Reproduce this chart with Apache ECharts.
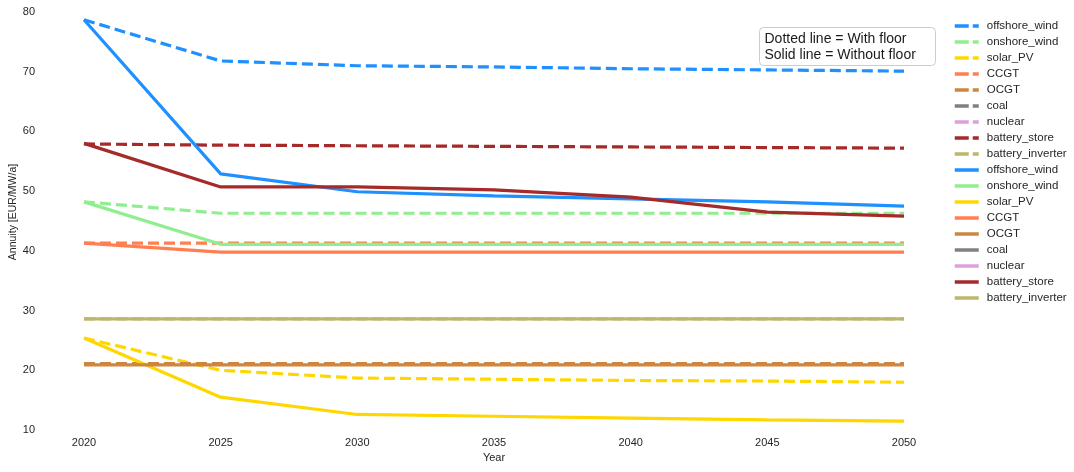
<!DOCTYPE html>
<html>
<head>
<meta charset="utf-8">
<script src="https://cdn.jsdelivr.net/npm/echarts@6/dist/echarts.min.js"></script>
<style>
html,body{margin:0;padding:0;background:#fff;}
#chart{width:1074px;height:472px;}
</style>
</head>
<body>
<div id="chart"></div>
<script>
const years = [2020, 2025, 2030, 2035, 2040, 2045, 2050];
const techs = ['offshore_wind','onshore_wind','solar_PV','CCGT','OCGT','coal','nuclear','battery_store','battery_inverter'];
const colors = ['#1E90FF','#90EE90','#FFD700','#FF7F50','#CD853F','#808080','#DDA0DD','#A52A2A','#BDB76B'];

// With floor (dashed)
const offshore_wind_floor = [78.7, 71.8, 71.0, 70.8, 70.5, 70.3, 70.1];
const onshore_wind_floor = [48.2, 46.3, 46.3, 46.3, 46.3, 46.3, 46.3];
const solar_PV_floor = [25.4, 20.0, 18.7, 18.5, 18.3, 18.2, 18.0];
const CCGT_floor = [41.3, 41.3, 41.3, 41.3, 41.3, 41.3, 41.3];
const OCGT_floor = [21.1, 21.1, 21.1, 21.1, 21.1, 21.1, 21.1];
const coal_floor = [];
const nuclear_floor = [];
const battery_store_floor = [57.9, 57.7, 57.6, 57.5, 57.4, 57.3, 57.2];
const battery_inverter_floor = [28.6, 28.6, 28.6, 28.6, 28.6, 28.6, 28.6];

// Without floor (solid)
const offshore_wind_nofloor = [78.7, 52.9, 49.9, 49.2, 48.7, 48.2, 47.5];
const onshore_wind_nofloor = [48.2, 41.1, 41.1, 41.1, 41.1, 41.1, 41.1];
const solar_PV_nofloor = [25.4, 15.5, 12.6, 12.3, 12.0, 11.7, 11.5];
const CCGT_nofloor = [41.3, 39.8, 39.8, 39.8, 39.8, 39.8, 39.8];
const OCGT_nofloor = [20.9, 20.9, 20.9, 20.9, 20.9, 20.9, 20.9];
const coal_nofloor = [];
const nuclear_nofloor = [];
const battery_store_nofloor = [58.0, 50.7, 50.7, 50.2, 49.0, 46.5, 45.8];
const battery_inverter_nofloor = [28.6, 28.6, 28.6, 28.6, 28.6, 28.6, 28.6];

const yTicks = [10, 20, 30, 40, 50, 60, 70, 80];

const floorData = [offshore_wind_floor, onshore_wind_floor, solar_PV_floor, CCGT_floor, OCGT_floor, coal_floor, nuclear_floor, battery_store_floor, battery_inverter_floor];
const noFloorData = [offshore_wind_nofloor, onshore_wind_nofloor, solar_PV_nofloor, CCGT_nofloor, OCGT_nofloor, coal_nofloor, nuclear_nofloor, battery_store_nofloor, battery_inverter_nofloor];

const FONT = '"Liberation Sans", Arial, sans-serif';
const series = [];
const legendData = [];
techs.forEach((t, i) => {
  series.push({
    name: t, type: 'line', symbol: 'none', silent: true,
    data: floorData[i].map((v, k) => [years[k], v]),
    lineStyle: {color: colors[i], width: 3.2, type: [11, 5], cap: 'butt'},
    itemStyle: {color: colors[i]},
    z: 2
  });
  legendData.push({name: t, lineStyle: {type: [14, 4, 6, 4]}});
});
techs.forEach((t, i) => {
  const nm = t + ' ';
  series.push({
    name: nm, type: 'line', symbol: 'none', silent: true,
    data: noFloorData[i].map((v, k) => [years[k], v]),
    lineStyle: {color: colors[i], width: 3.2, type: 'solid'},
    itemStyle: {color: colors[i]},
    z: 3
  });
  legendData.push({name: nm});
});

const chart = echarts.init(document.getElementById('chart'), null, {renderer: 'canvas'});
chart.setOption({
  animation: false,
  backgroundColor: '#fff',
  grid: {left: 84, right: 170, top: 12, bottom: 42, containLabel: false, outerBoundsMode: 'none'},
  xAxis: {
    type: 'value', min: 2020, max: 2050, interval: 5,
    name: 'Year', nameLocation: 'middle', nameGap: 21,
    nameTextStyle: {color: '#262626', fontSize: 11, fontFamily: FONT},
    axisLine: {show: false}, axisTick: {show: false}, splitLine: {show: false},
    axisLabel: {color: '#262626', fontSize: 11, fontFamily: FONT, margin: 7,
      formatter: v => String(v)}
  },
  yAxis: {
    type: 'value', min: 10, max: 80, interval: 10,
    axisLine: {show: false}, axisTick: {show: false}, splitLine: {show: false},
    axisLabel: {color: '#262626', fontSize: 11, fontFamily: FONT, margin: 49,
      formatter: v => yTicks.includes(v) ? String(v) : ''}
  },
  legend: {
    orient: 'vertical', left: 948, top: 15,
    itemWidth: 24, itemHeight: 10, itemGap: 4,
    data: legendData,
    formatter: n => n.trim(),
    itemStyle: {opacity: 0},
    lineStyle: {width: 3.5},
    textStyle: {color: '#262626', fontSize: 11.5, fontFamily: FONT, padding: [0, 0, 0, 3]},
    selectedMode: false
  },
  graphic: [{
    type: 'text', x: 13, y: 212, rotation: Math.PI / 2,
    style: {text: 'Annuity [EUR/MW/a]', fill: '#262626', font: '10.5px "Liberation Sans", Arial, sans-serif',
            align: 'center', verticalAlign: 'middle'}
  }, {
    type: 'group', left: 759, top: 27,
    children: [
      {type: 'rect', shape: {x: 0, y: 0, width: 176, height: 38, r: 4},
       style: {fill: 'rgba(255,255,255,0.85)', stroke: '#cccccc', lineWidth: 1}},
      {type: 'text', x: 5, y: 4,
       style: {text: 'Dotted line = With floor\nSolid line = Without floor', fill: '#1a1a1a',
               font: '14px "Liberation Sans", Arial, sans-serif', lineHeight: 15.5}}
    ]
  }],
  series: series
});
</script>
</body>
</html>
